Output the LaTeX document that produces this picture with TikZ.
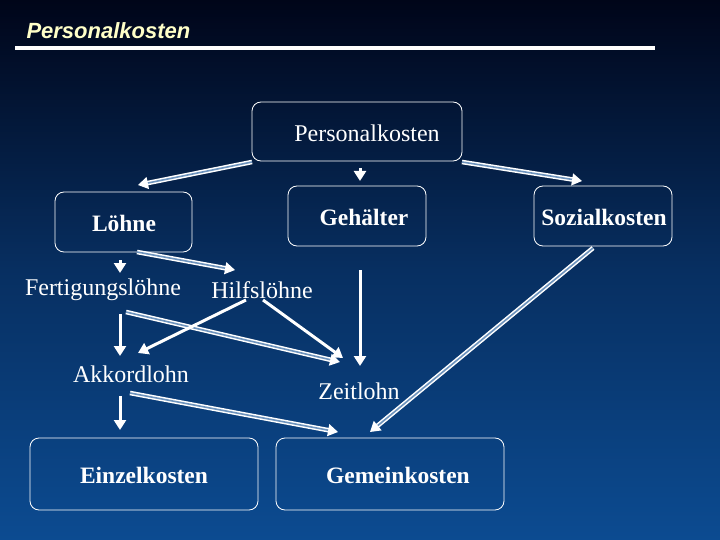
\documentclass[tikz,border=0pt]{standalone}
\usepackage{fontspec}
\setmainfont{Liberation Serif}
\newfontfamily\titlefont{Liberation Sans}
\usetikzlibrary{arrows.meta}
\definecolor{bgtop}{RGB}{0,5,25}
\definecolor{bgbot}{RGB}{12,75,145}
\definecolor{titlecol}{RGB}{255,255,200}
\begin{document}
\begin{tikzpicture}[x=1pt,y=-1pt,
  box/.style={draw=white,line width=0.8pt,rounded corners=9pt},
  lbl/.style={text=white,font=\fontsize{24}{27}\selectfont},
  blbl/.style={text=white,font=\bfseries\fontsize{23.5}{27}\selectfont},
  sol/.style={white,line width=3pt,-{Triangle[length=10pt,width=12pt]}},
  hat/.style={white,double=bgbot!60!white,double distance=1.6pt,line width=1.5pt,-{Triangle[length=10pt,width=12pt]}}]
\shade[top color=bgtop,bottom color=bgbot,middle color=bgbot!60!bgtop] (0,0) rectangle (720,540);
\useasboundingbox (0,0) rectangle (720,540);
\node[anchor=west,text=titlecol,font=\titlefont\bfseries\itshape\fontsize{22}{24}\selectfont] (title) at (23,31) {Personalkosten};
\draw[white,line width=3.5pt] (15,48) -- (655,48);
\node[box,minimum width=210pt,minimum height=59pt] (pk) at (357,131.5) {};
\node[box,minimum width=137pt,minimum height=60pt] (lo) at (123.5,222) {};
\node[box,minimum width=138pt,minimum height=60pt] (ge) at (357,216) {};
\node[box,minimum width=138pt,minimum height=60pt] (so) at (603,216) {};
\node[box,minimum width=228pt,minimum height=72pt] (ek) at (144,474) {};
\node[box,minimum width=228pt,minimum height=72pt] (gk) at (390,474) {};
\node[lbl] (tpk) at (367,133) {Personalkosten};
\node[blbl] (tlo) at (124,223) {Löhne};
\node[blbl] (tge) at (364,217) {Gehälter};
\node[blbl] (tso) at (604,217) {Sozialkosten};
\node[blbl] (tek) at (144,475) {Einzelkosten};
\node[blbl] (tgk) at (398,475) {Gemeinkosten};
\node[lbl] (fl) at (103,290) {Fertigungslöhne};
\node[lbl] (hl) at (262,290) {Hilfslöhne};
\node[lbl] (ak) at (131,374) {Akkordlohn};
\node[lbl] (zl) at (359,391) {Zeitlohn};
\coordinate (a1) at (252,162); \coordinate (a2) at (138,185);
\coordinate (b1) at (360,168); \coordinate (b2) at (360,181);
\coordinate (c1) at (462,162); \coordinate (c2) at (582,181);
\coordinate (d1) at (120,260); \coordinate (d2) at (120,273);
\coordinate (e1) at (137,252); \coordinate (e2) at (235,270);
\coordinate (f1) at (120,314); \coordinate (f2) at (120,356);
\coordinate (g1) at (126,312); \coordinate (g2) at (340,362);
\coordinate (h1) at (246,300); \coordinate (h2) at (138,353);
\coordinate (i1) at (263,300); \coordinate (i2) at (343,358);
\coordinate (j1) at (360,270); \coordinate (j2) at (360,366);
\coordinate (k1) at (120,396); \coordinate (k2) at (120,430);
\coordinate (l1) at (130,393); \coordinate (l2) at (338,432);
\coordinate (m1) at (593,248); \coordinate (m2) at (370,432);
\draw[hat] (a1) -- (a2);
\draw[sol] (b1) -- (b2);
\draw[hat] (c1) -- (c2);
\draw[sol] (d1) -- (d2);
\draw[hat] (e1) -- (e2);
\draw[sol] (f1) -- (f2);
\draw[hat] (g1) -- (g2);
\draw[sol] (h1) -- (h2);
\draw[sol] (i1) -- (i2);
\draw[sol] (j1) -- (j2);
\draw[sol] (k1) -- (k2);
\draw[hat] (l1) -- (l2);
\draw[hat] (m1) -- (m2);
\end{tikzpicture}
\end{document}
